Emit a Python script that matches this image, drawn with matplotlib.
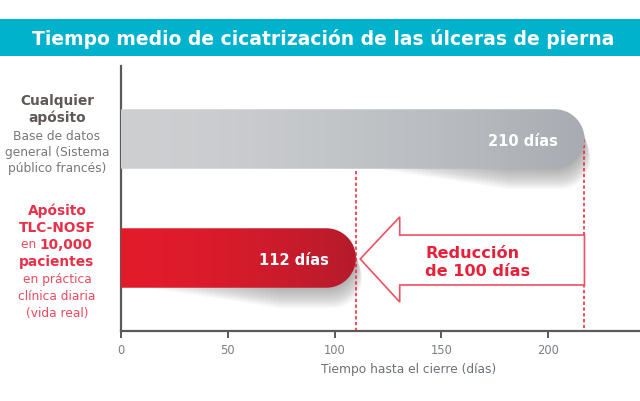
import numpy as np
import matplotlib
matplotlib.use("Agg")
import matplotlib.pyplot as plt
from matplotlib.patches import Polygon, Rectangle

# ---- data ----
categories = ["Cualquier apósito", "Apósito TLC-NOSF"]
bar_ends = [217, 110]             # drawn bar lengths (days)
bar_labels = ["210 días", "112 días"]
xticks = [0, 50, 100, 150, 200]
xlabel = "Tiempo hasta el cierre (días)"
title = "Tiempo medio de cicatrización de las úlceras de pierna"
reduction_label = "Reducción\nde 100 días"

W, H = 640, 402
fig = plt.figure(figsize=(W / 100, H / 100), dpi=100)
FONT = "DejaVu Sans"

# title banner
fig.patches.append(Rectangle((0, 1 - 57 / H), 1, 37 / H, transform=fig.transFigure,
                             facecolor="#00b2cb", edgecolor="none", zorder=0))
fig.text(0.505, 1 - 39 / H, title, ha="center", va="center", color="white",
         fontsize=13.5, fontweight="bold", family=FONT)

ax_left, ax_right, ax_top, ax_bot = 121, 640, 67, 332
ax = fig.add_axes([ax_left / W, 1 - ax_bot / H, (ax_right - ax_left) / W, (ax_bot - ax_top) / H])
xmax = 243
ax.set_xlim(0, xmax)
ypix_per = 119.0
ylo = (ax_top - 140) / ypix_per
yhi = (ax_bot - 140) / ypix_per
ax.set_ylim(yhi, ylo)

px_x = (ax_right - ax_left) / xmax
bar_h = 0.5
rx = (bar_h / 2) * ypix_per / px_x

for s in ["top", "right"]:
    ax.spines[s].set_visible(False)
for s in ["left", "bottom"]:
    ax.spines[s].set_color("#5a5a5a")
    ax.spines[s].set_linewidth(1.6)
ax.set_yticks([])
ax.set_xticks(xticks)
ax.tick_params(axis="x", direction="out", length=5, width=1.4, color="#5a5a5a",
               labelsize=8.3, labelcolor="#7a7e86", pad=4)
ax.text(134.5, yhi + 38 / ypix_per, xlabel, ha="center", va="center", fontsize=8.8,
        color="#6d7178", clip_on=False)


def bar_shape(y, end, dx=0.0, dy=0.0, start=0.0):
    th = np.linspace(-np.pi / 2, np.pi / 2, 60)
    cx = end - rx
    arc = np.column_stack([cx + rx * np.cos(th), y - (bar_h / 2) * np.sin(th)])
    verts = np.vstack([[start, y + bar_h / 2], arc, [start, y - bar_h / 2]])
    return verts + np.array([dx, dy])


grads = [("#cdcfd1", "#a8acb2"), ("#e31b2c", "#b51c2b")]
for i, (end, lab) in enumerate(zip(bar_ends, bar_labels)):
    y = i
    # soft shadow (many faint offset layers)
    nsh = 32
    for k in range(1, nsh + 1):
        sh = Polygon(bar_shape(y, end, dx=0.09 * k, dy=k * 0.65 / ypix_per,
                               start=end - 100 + 1.9 * k),
                     closed=True, facecolor="#303030", edgecolor="none", alpha=0.013, zorder=1)
        ax.add_patch(sh)
    poly = Polygon(bar_shape(y, end), closed=True, facecolor="none", edgecolor="none", zorder=2)
    ax.add_patch(poly)
    c0 = np.array(matplotlib.colors.to_rgb(grads[i][0]))
    c1 = np.array(matplotlib.colors.to_rgb(grads[i][1]))
    t = np.linspace(0, 1, 256) ** 1.6
    img = (c0[None, :] * (1 - t[:, None]) + c1[None, :] * t[:, None])[None, :, :]
    im = ax.imshow(img, extent=[0, end, y + bar_h / 2, y - bar_h / 2], aspect="auto",
                   zorder=3, interpolation="bilinear")
    im.set_clip_path(poly)
    ax.text(end - 12.5, y + 0.01, lab, ha="right", va="center", color="white", fontsize=10.5,
            fontweight="bold", zorder=5)

ax.set_xlim(0, xmax)
ax.set_ylim(yhi, ylo)

# dashed reference lines
red = "#e8202f"
ax.plot([bar_ends[1], bar_ends[1]], [0 + bar_h / 2 + 0.02, yhi], ls=(0, (2.2, 1.6)),
        color=red, lw=1.1, zorder=4, clip_on=False)
ax.plot([bar_ends[0], bar_ends[0]], [0, yhi], ls=(0, (2.2, 1.6)),
        color=red, lw=1.1, zorder=1.5, clip_on=False)

# reduction arrow (outline)
tip_x = bar_ends[1] + 2
head_x = bar_ends[1] + 20.5
tail_x = bar_ends[0]
yc = 1.008
arrow = Polygon([[tip_x, yc], [head_x, 0.655], [head_x, 0.807], [tail_x, 0.807],
                 [tail_x, 1.227], [head_x, 1.227], [head_x, 1.37]], closed=True,
                facecolor="white", edgecolor="#ef5060", lw=1.2, zorder=4)
ax.add_patch(arrow)
ax.text(142.5, 1.03, reduction_label, ha="left", va="center", color="#e8203a",
        fontsize=11.6, fontweight="bold", linespacing=1.3, zorder=5)

# left-hand category labels
grey_b, grey_r = "#5e5856", "#7a7674"
red_b, red_r = "#e8304a", "#ec4a5e"
lx = 57 / W
BS, RS = 9.9, 8.8
def ftext(ypix, s, color, bold, size):
    fig.text(lx, 1 - ypix / H, s, ha="center", va="center", color=color,
             fontsize=size, fontweight="bold" if bold else "normal", family=FONT)

ftext(101, "Cualquier", grey_b, True, BS)
ftext(118, "apósito", grey_b, True, BS)
ftext(136, "Base de datos", grey_r, False, RS)
ftext(153, "general (Sistema", grey_r, False, RS)
ftext(169, "público francés)", grey_r, False, RS)

ftext(211, "Apósito", red_b, True, BS)
ftext(228, "TLC-NOSF", red_b, True, BS)
# mixed line "en 10,000"
fig.text(lx - 0.027, 1 - 245 / H, "en ", ha="right", va="center", color=red_r,
         fontsize=RS, family=FONT)
fig.text(lx - 0.027, 1 - 245 / H, "10,000", ha="left", va="center", color=red_b,
         fontsize=BS, fontweight="bold", family=FONT)
ftext(262, "pacientes", red_b, True, BS)
ftext(280, "en práctica", red_r, False, RS)
ftext(297, "clínica diaria", red_r, False, RS)
ftext(314, "(vida real)", red_r, False, RS)

fig.savefig("out.png", dpi=100, facecolor="white")
